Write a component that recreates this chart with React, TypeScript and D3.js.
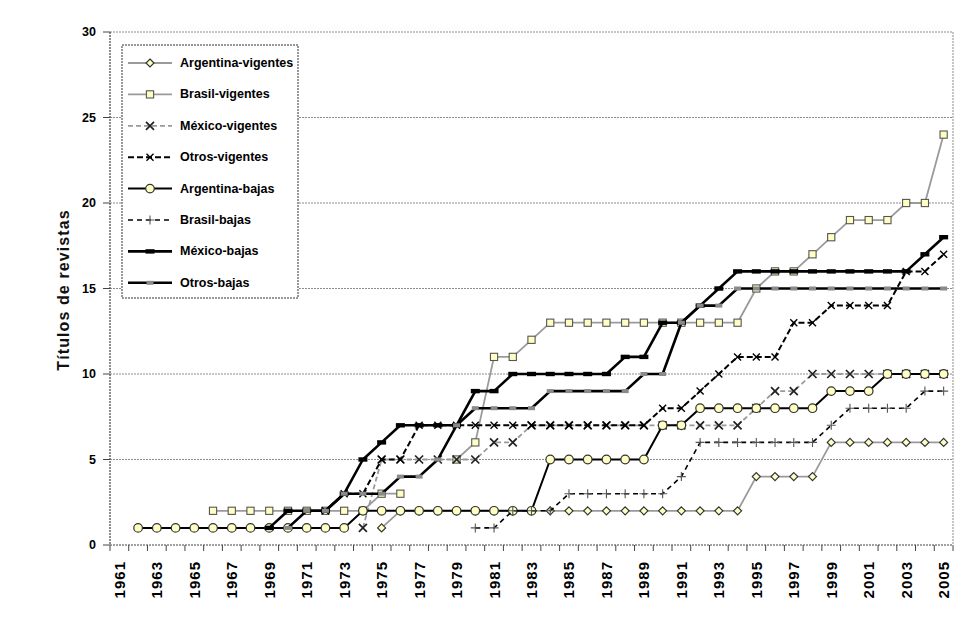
import React from "react";
import * as d3 from "d3";

const N = null;

const years = [
  1961, 1962, 1963, 1964, 1965, 1966, 1967, 1968, 1969, 1970,
  1971, 1972, 1973, 1974, 1975, 1976, 1977, 1978, 1979, 1980,
  1981, 1982, 1983, 1984, 1985, 1986, 1987, 1988, 1989, 1990,
  1991, 1992, 1993, 1994, 1995, 1996, 1997, 1998, 1999, 2000,
  2001, 2002, 2003, 2004, 2005,
];

const yTicks = [0, 5, 10, 15, 20, 25, 30];

const argentinaVigentes = [
  N, N, N, N, N, N, N, N, N, N, N, N, N, N,
  1,
  2, 2, 2, 2, 2, 2, 2, 2, 2, 2, 2, 2, 2, 2, 2, 2, 2, 2, 2,
  4, 4, 4, 4,
  6, 6, 6, 6, 6, 6, 6,
];

const brasilVigentes = [
  N, N, N, N, N,
  2, 2, 2, 2, 2, 2, 2, 2, 2,
  3, 3,
  N, N,
  5, 6,
  11, 11, 12,
  13, 13, 13, 13, 13, 13, 13, 13, 13, 13, 13,
  15, 16, 16, 17, 18, 19, 19, 19, 20, 20, 24,
];

const mexicoVigentes = [
  N, N, N, N, N, N, N, N, N, N, N, N, N,
  1,
  5, 5, 5, 5, 5, 5,
  6, 6,
  7, 7, 7, 7, 7, 7, 7, 7, 7, 7, 7, 7,
  8, 9, 9,
  10, 10, 10, 10, 10, 10, 10, 10,
];

const otrosVigentes = [
  N, N, N, N, N, N, N, N, N, N, N,
  2, 3, 3, 5, 5,
  7, 7, 7, 7, 7, 7, 7, 7, 7, 7, 7, 7, 7,
  8, 8, 9, 10,
  11, 11, 11,
  13, 13,
  14, 14, 14, 14,
  16, 16, 17,
];

const argentinaBajas = [
  N,
  1, 1, 1, 1, 1, 1, 1, 1, 1, 1, 1, 1,
  2, 2, 2, 2, 2, 2, 2, 2, 2, 2,
  5, 5, 5, 5, 5, 5,
  7, 7,
  8, 8, 8, 8, 8, 8, 8,
  9, 9, 9,
  10, 10, 10, 10,
];

const brasilBajas = [
  N, N, N, N, N, N, N, N, N, N, N, N, N, N, N, N, N, N, N,
  1, 1,
  2, 2, 2,
  3, 3, 3, 3, 3, 3,
  4,
  6, 6, 6, 6, 6, 6, 6,
  7,
  8, 8, 8, 8,
  9, 9,
];

const mexicoBajas = [
  N, N, N, N, N, N, N, N,
  1, 2, 2, 2, 3, 5, 6,
  7, 7, 7, 7,
  9, 9,
  10, 10, 10, 10, 10, 10,
  11, 11,
  13, 13,
  14, 15,
  16, 16, 16, 16, 16, 16, 16, 16, 16, 16,
  17, 18,
];

const otrosBajas = [
  N, N, N, N, N, N, N, N, N,
  1, 2, 2, 3, 3, 3, 4, 4, 5, 7,
  8, 8, 8, 8,
  9, 9, 9, 9, 9,
  10, 10,
  13, 14, 14,
  15, 15, 15, 15, 15, 15, 15, 15, 15, 15, 15, 15,
];

type Marker = "diamond" | "square" | "xbig" | "xsmall" | "circle" | "plus" | "barBlack" | "barGray";

const seriesNames = [
  "Argentina-vigentes",
  "Brasil-vigentes",
  "México-vigentes",
  "Otros-vigentes",
  "Argentina-bajas",
  "Brasil-bajas",
  "México-bajas",
  "Otros-bajas",
];
const seriesValues = [
  argentinaVigentes,
  brasilVigentes,
  mexicoVigentes,
  otrosVigentes,
  argentinaBajas,
  brasilBajas,
  mexicoBajas,
  otrosBajas,
];

const styles: { color: string; width: number; dash?: string; marker: Marker }[] = [
  { color: "#9a9a9a", width: 1.8, marker: "diamond" },
  { color: "#9a9a9a", width: 1.8, marker: "square" },
  { color: "#9a9a9a", width: 1.8, dash: "5,3", marker: "xbig" },
  { color: "#000", width: 2, dash: "6,3", marker: "xsmall" },
  { color: "#000", width: 2, marker: "circle" },
  { color: "#000", width: 1.6, dash: "5,4", marker: "plus" },
  { color: "#000", width: 2.6, marker: "barBlack" },
  { color: "#000", width: 2.6, marker: "barGray" },
];

const FILL = "#ffffc4";

function MarkerShape({ type, x, y }: { type: Marker; x: number; y: number }) {
  switch (type) {
    case "diamond":
      return (
        <path
          d={`M${x},${y - 4}L${x + 4},${y}L${x},${y + 4}L${x - 4},${y}Z`}
          fill={FILL}
          stroke="#333"
          strokeWidth={1.2}
        />
      );
    case "square":
      return <rect x={x - 3.6} y={y - 3.6} width={7.2} height={7.2} fill={FILL} stroke="#555" strokeWidth={1.1} />;
    case "xbig":
      return (
        <path
          d={`M${x - 4},${y - 4}L${x + 4},${y + 4}M${x - 4},${y + 4}L${x + 4},${y - 4}`}
          stroke="#222"
          strokeWidth={1.7}
        />
      );
    case "xsmall":
      return (
        <path
          d={`M${x - 3.5},${y - 3.5}L${x + 3.5},${y + 3.5}M${x - 3.5},${y + 3.5}L${x + 3.5},${y - 3.5}`}
          stroke="#000"
          strokeWidth={1.4}
        />
      );
    case "circle":
      return <circle cx={x} cy={y} r={4.3} fill={FILL} stroke="#333" strokeWidth={1.2} />;
    case "plus":
      return (
        <path d={`M${x - 4.5},${y}L${x + 4.5},${y}M${x},${y - 4.5}L${x},${y + 4.5}`} stroke="#555" strokeWidth={1.1} />
      );
    case "barBlack":
      return <rect x={x - 4.5} y={y - 2.2} width={9} height={4.4} fill="#000" />;
    case "barGray":
      return <rect x={x - 3.5} y={y - 2} width={7} height={4} fill="#8a8a8a" />;
  }
  return null;
}

const W = 974;
const H = 618;
const left = 110;
const right = 953;
const top = 32;
const bottom = 545;

export default function App() {
  const x = d3.scaleBand<number>().domain(years).range([left, right]).padding(0);
  const y = d3.scaleLinear().domain([0, 30]).range([bottom, top]);
  const cx = (yr: number) => (x(yr) as number) + x.bandwidth() / 2;

  const font = "'Liberation Sans', Arial, Helvetica, sans-serif";

  const legendX = 122;
  const legendY = 45;
  const legendW = 176;
  const legendH = 253;
  const rowH = 31.4;

  return (
    <div style={{ position: "absolute", left: 0, top: 0 }}>
      <style>{`body{margin:0;}`}</style>
      <svg width={W} height={H} style={{ display: "block", fontFamily: font }}>
        <rect x={0} y={0} width={W} height={H} fill="#fff" />
        {yTicks.map((t) =>
          t === 0 ? null : (
            <line
              key={"g" + t}
              x1={left}
              x2={right}
              y1={y(t)}
              y2={y(t)}
              stroke="#8c8c8c"
              strokeWidth={1}
              strokeDasharray="2,1"
            />
          )
        )}
        <line x1={right} x2={right} y1={top} y2={bottom} stroke="#8c8c8c" strokeWidth={1} strokeDasharray="2,1" />
        <line x1={left} x2={left} y1={top} y2={bottom} stroke="#444" strokeWidth={1.2} strokeDasharray="2,1" />
        <line x1={left} x2={right} y1={bottom} y2={bottom} stroke="#444" strokeWidth={1.2} strokeDasharray="2,1" />
        {yTicks.map((t) => (
          <g key={"yt" + t}>
            <line x1={left - 7} x2={left} y1={y(t)} y2={y(t)} stroke="#444" strokeWidth={1} />
            <text
              x={96}
              y={y(t)}
              textAnchor="end"
              dominantBaseline="central"
              fontSize={12.5}
              fontWeight="bold"
              fill="#000"
            >
              {t}
            </text>
          </g>
        ))}
        {years.map((yr) => (
          <line
            key={"xt" + yr}
            x1={x(yr) as number}
            x2={x(yr) as number}
            y1={bottom}
            y2={bottom + 6}
            stroke="#444"
            strokeWidth={1}
          />
        ))}
        <line x1={right} x2={right} y1={bottom} y2={bottom + 6} stroke="#444" strokeWidth={1} />
        {years
          .filter((yr) => (yr - 1961) % 2 === 0)
          .map((yr) => (
            <text
              key={"xl" + yr}
              transform={`translate(${cx(yr)},${561}) rotate(-90)`}
              textAnchor="end"
              dominantBaseline="central"
              fontSize={15}
              fontWeight="bold"
              letterSpacing={1}
              fill="#000"
            >
              {yr}
            </text>
          ))}
        <text
          transform={`translate(${63},${290}) rotate(-90)`}
          textAnchor="middle"
          dominantBaseline="central"
          fontSize={16}
          fontWeight="bold"
          letterSpacing={1.1}
          fill="#111"
        >
          Títulos de revistas
        </text>
        {seriesValues.map((vals, si) => {
          const st = styles[si];
          const line = d3
            .line<number | null>()
            .defined((d) => d !== null)
            .x((_, i) => cx(years[i]))
            .y((d) => y(d as number));
          return (
            <g key={"s" + si}>
              <path
                d={line(vals) || ""}
                fill="none"
                stroke={st.color}
                strokeWidth={st.width}
                strokeDasharray={st.dash}
                strokeLinejoin="round"
              />
              {vals.map((v, i) =>
                v === null ? null : <MarkerShape key={i} type={st.marker} x={cx(years[i])} y={y(v)} />
              )}
            </g>
          );
        })}
        <rect
          x={legendX}
          y={legendY}
          width={legendW}
          height={legendH}
          fill="#fff"
          stroke="#333"
          strokeWidth={1}
          strokeDasharray="2,1"
        />
        {seriesNames.map((name, i) => {
          const st = styles[i];
          const ly = legendY + 18 + i * rowH;
          return (
            <g key={"lg" + i}>
              <line
                x1={128}
                x2={172}
                y1={ly}
                y2={ly}
                stroke={st.color}
                strokeWidth={st.width}
                strokeDasharray={st.dash}
              />
              <MarkerShape type={st.marker} x={150} y={ly} />
              <text x={180} y={ly} dominantBaseline="central" fontSize={12.5} fontWeight="bold" fill="#000">
                {name}
              </text>
            </g>
          );
        })}
      </svg>
    </div>
  );
}
